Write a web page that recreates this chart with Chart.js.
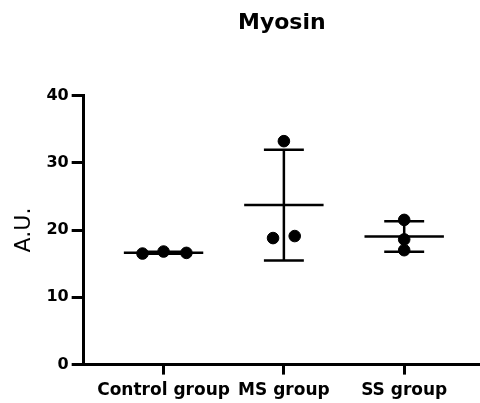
<!DOCTYPE html>
<html>
<head>
<meta charset="utf-8">
<script src="https://cdn.jsdelivr.net/npm/chart.js@4/dist/chart.umd.min.js"></script>
<style>
  html, body { margin: 0; padding: 0; background: #fff; }
  #wrap { width: 480px; height: 403px; }
</style>
</head>
<body>
<div id="wrap"><canvas id="myosinChart"></canvas></div>
<script>
// groups on the x axis
const categories = ['Control group', 'MS group', 'SS group'];

// individual measurements (A.U.) per group
const controlValues = [16.5, 16.8, 16.6];
const msValues = [33.2, 18.8, 19.1];
const ssValues = [21.5, 18.6, 17.0];

// horizontal scatter of the dots around each group (x axis units)
const controlJitter = [-0.175, 0, 0.19];
const msJitter = [0, -0.09, 0.09];
const ssJitter = [0, 0, 0];

const yTicks = [0, 10, 20, 30, 40];

const groups = [
    { values: controlValues, jitter: controlJitter },
    { values: msValues, jitter: msJitter },
    { values: ssValues, jitter: ssJitter }
];

function mean(arr) {
    return arr.reduce((a, b) => a + b, 0) / arr.length;
}
function sd(arr) {
    const m = mean(arr);
    return Math.sqrt(arr.reduce((a, b) => a + (b - m) * (b - m), 0) / (arr.length - 1));
}

// dots
const points = [];
groups.forEach((g, i) => {
    g.values.forEach((v, j) => points.push({ x: i + 1 + g.jitter[j], y: v }));
});

// mean line + SD error bar, split with gaps
const meanHalf = 0.33;
const capHalf = 0.166;
const summary = [];
groups.forEach((g, i) => {
    const x = i + 1;
    const m = mean(g.values);
    const s = sd(g.values);
    summary.push({ x: x - meanHalf, y: m }, { x: x + meanHalf, y: m }, { x: x, y: null });
    summary.push({ x: x, y: m - s }, { x: x, y: m + s }, { x: x, y: null });
    summary.push({ x: x - capHalf, y: m + s }, { x: x + capHalf, y: m + s }, { x: x, y: null });
    summary.push({ x: x - capHalf, y: m - s }, { x: x + capHalf, y: m - s }, { x: x, y: null });
});

new Chart(document.getElementById('myosinChart'), {
    type: 'scatter',
    data: {
        datasets: [
            {
                label: 'values',
                data: points,
                backgroundColor: '#000',
                borderColor: '#000',
                pointRadius: 5.8,
                pointHoverRadius: 5.8,
                order: 0
            },
            {
                type: 'line',
                label: 'mean ± SD',
                data: summary,
                borderColor: '#000',
                borderWidth: 2.5,
                pointRadius: 0,
                spanGaps: false,
                fill: false,
                order: 1
            }
        ]
    },
    options: {
        responsive: true,
        maintainAspectRatio: false,
        animation: false,
        layout: { autoPadding: false, padding: { left: 8, right: 0, top: 0, bottom: -4 } },
        plugins: {
            legend: { display: false },
            tooltip: { enabled: false },
            title: {
                display: true,
                fullSize: false,
                text: 'Myosin',
                color: '#000',
                font: { family: 'DejaVu Sans', size: 22, weight: 'bold' },
                padding: { top: 10, bottom: 59 }
            }
        },
        scales: {
            x: {
                type: 'linear',
                min: 0.336,
                max: 3.63,
                afterBuildTicks: (scale) => {
                    scale.ticks = categories.map((c, i) => ({ value: i + 1 }));
                },
                ticks: {
                    color: '#000',
                    font: { family: 'DejaVu Sans', size: 17, weight: 'bold' },
                    padding: 6,
                    maxRotation: 0,
                    autoSkip: false,
                    callback: (v) => categories[v - 1]
                },
                grid: {
                    drawOnChartArea: false,
                    drawTicks: true,
                    tickLength: 10,
                    tickWidth: 3,
                    tickColor: '#000'
                },
                border: { display: true, color: '#000', width: 3 }
            },
            y: {
                min: 0,
                max: 40,
                afterBuildTicks: (scale) => {
                    scale.ticks = yTicks.map(v => ({ value: v }));
                },
                ticks: {
                    color: '#000',
                    font: { family: 'DejaVu Sans', size: 16, weight: 'bold' },
                    padding: 3
                },
                grid: {
                    drawOnChartArea: false,
                    drawTicks: true,
                    tickLength: 12,
                    tickWidth: 3,
                    tickColor: '#000'
                },
                border: { display: true, color: '#000', width: 3 },
                title: {
                    display: true,
                    text: 'A.U.',
                    color: '#000',
                    font: { family: 'DejaVu Sans', size: 22 },
                    padding: { top: 3, bottom: 6 }
                }
            }
        }
    }
});
</script>
</body>
</html>
